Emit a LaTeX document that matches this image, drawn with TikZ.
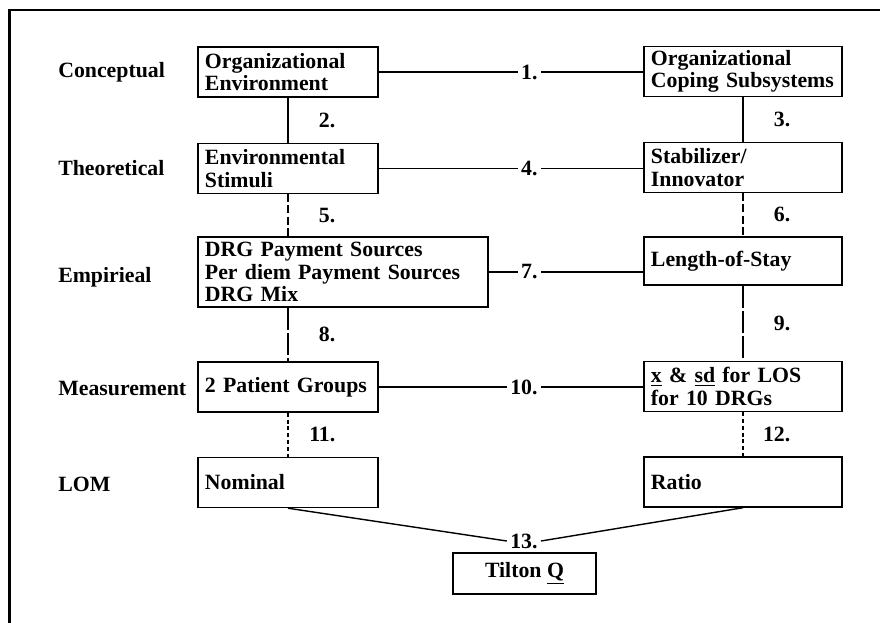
\documentclass[tikz,border=0pt]{standalone}
\usepackage{fontspec}
\setmainfont{Liberation Serif}
\usepackage{tikz}
\usetikzlibrary{positioning, calc}
\newcommand{\dgfont}{\fontsize{15.5}{16}\selectfont\bfseries}
\tikzset{
  box/.style={rectangle, draw, line width=1pt, align=left,
    inner xsep=0.175cm, inner ysep=0pt, font=\dgfont},
  leftbox/.style={box, minimum width=4.5cm, text width=4.15cm, minimum height=1.25cm},
  rightbox/.style={box, minimum width=4.95cm, text width=4.6cm, minimum height=1.25cm},
  rowlab/.style={anchor=west, inner sep=0pt, font=\dgfont},
  numlab/.style={anchor=east, inner sep=0.08cm, font=\dgfont},
  vlab/.style={midway, anchor=east, xshift=1.2cm, inner sep=0pt, font=\dgfont},
  conn/.style={line width=1pt},
  dashmid/.style={dash pattern=on 0.2cm off 0.08cm},
  dashlong/.style={dash pattern=on 0.55cm off 0.08cm},
  dashshort/.style={dash pattern=on 0.1cm off 0.07cm}
}

\begin{document}
\begin{tikzpicture}[x=0.025cm, y=-0.025cm]
  \useasboundingbox (0,0) rectangle (880,623);
  % frame
  \draw[line width=2pt] (9.5,623) -- (9.5,10) -- (880,10);

  % Row labels
  \node[rowlab] (rconc) at (58,72) {Conceptual};
  \node[rowlab] (rtheo) at (58,168) {Theoretical};
  \node[rowlab] (remp) at (58,277) {Empirieal};
  \node[rowlab] (rmeas) at (58,388) {Measurement};
  \node[rowlab] (rlom) at (58,484) {LOM};

  % Left column
  \node[leftbox] (orgenv) at (288,72) {Organizational\\Environment};
  \node[leftbox] (stimuli) at (288,168.5) {Environmental\\Stimuli};
  \node[box, minimum width=7.25cm, text width=6.9cm, minimum height=1.75cm] (drg) at (343,272)
    {DRG Payment Sources\\Per diem Payment Sources\\DRG Mix};
  \node[leftbox] (groups) at (288,387) {2 Patient Groups};
  \node[leftbox] (nominal) at (288,482.5) {Nominal};

  % Right column
  \node[rightbox] (coping) at (743,71.5) {Organizational\\Coping Subsystems};
  \node[rightbox] (stab) at (743,167.5) {Stabilizer/\\Innovator};
  \node[rightbox, minimum height=1.2cm] (los) at (743,261) {Length-of-Stay};
  \node[rightbox] (meansd) at (743,386.5) {\underline{x} \& \underline{sd} for LOS\\for 10 DRGs};
  \node[rightbox] (ratio) at (743,482) {Ratio};

  \node[box, minimum width=3.575cm, minimum height=1.025cm, align=center] (tilton) at (524.5,573.5) {Tilton \underline{Q}};

  % Horizontal links
  \node[numlab] (n1) at (541,72) {1.};
  \node[numlab] (n4) at (541,168.5) {4.};
  \node[numlab] (n7) at (541,272) {7.};
  \node[numlab] (n10) at (541,387) {10.};
  \node[numlab] (n13) at (541,541) {13.};
  \draw[conn] (orgenv.east) -- (n1.west) (n1.east) -- (n1.east -| coping.west);
  \draw[conn] (stimuli.east) -- (n4.west) (n4.east) -- (n4.east -| stab.west);
  \draw[conn] (drg.east) -- (n7.west) (n7.east) -- (n7.east -| los.west);
  \draw[conn] (groups.east) -- (n10.west) (n10.east) -- (n10.east -| meansd.west);
  \draw[conn] (nominal.south) -- (n13.west) (n13.east) -- (ratio.south);

  % Vertical links
  \draw[conn] (orgenv) -- (stimuli) node[vlab] {2.};
  \draw[conn, dashmid] (stimuli.south) -- (stimuli.south |- drg.north) node[vlab] {5.};
  \draw[conn, dashlong] (groups.north |- drg.south) -- (groups.north) node[vlab] {8.};
  \draw[conn, dashshort] (groups) -- (nominal) node[vlab] {11.};
  \draw[conn] (coping) -- (stab) node[vlab] {3.};
  \draw[conn, dashmid] (stab) -- (los) node[vlab] {6.};
  \draw[conn, dashlong] (los) -- (meansd) node[vlab] {9.};
  \draw[conn, dashshort] (meansd) -- (ratio) node[vlab] {12.};
\end{tikzpicture}
\end{document}
